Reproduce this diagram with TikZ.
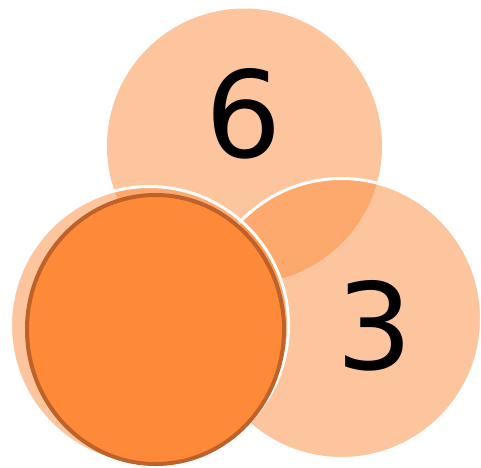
\documentclass[tikz,border=0pt]{standalone}
\usepackage{fontspec}
\setmainfont{DejaVu Sans}
\usetikzlibrary{shapes.geometric}
\definecolor{baseorange}{RGB}{252,139,61}
\definecolor{darkorange}{RGB}{253,137,57}
\definecolor{rimbrown}{RGB}{190,98,42}
\tikzset{
  softdisc/.style={circle, inner sep=0pt, minimum size=275pt, fill=baseorange, fill opacity=0.5, draw opacity=1},
  whiterim/.style={draw=white, line width=3pt},
  bigdigit/.style={inner sep=0pt, font=\fontsize{120}{120}\selectfont, text=black}
}
\begin{document}
\begin{tikzpicture}[x=1pt,y=-1pt]
\useasboundingbox (0,0) rectangle (481,467);
\node[softdisc] (top) at (244.5,146) {};
\node[softdisc, whiterim, minimum size=280pt] (right) at (341.5,318.5) {};
\node[softdisc, whiterim, minimum size=278pt] (left) at (149.5,325.5) {};
\node[ellipse, inner sep=0pt, minimum width=257pt, minimum height=269pt, fill=darkorange, draw=rimbrown, line width=4pt] (core) at (155.5,329.5) {};
\node[bigdigit] (six) at (244,114) {6};
\node[bigdigit] (three) at (374.5,326) {3};
\end{tikzpicture}
\end{document}
